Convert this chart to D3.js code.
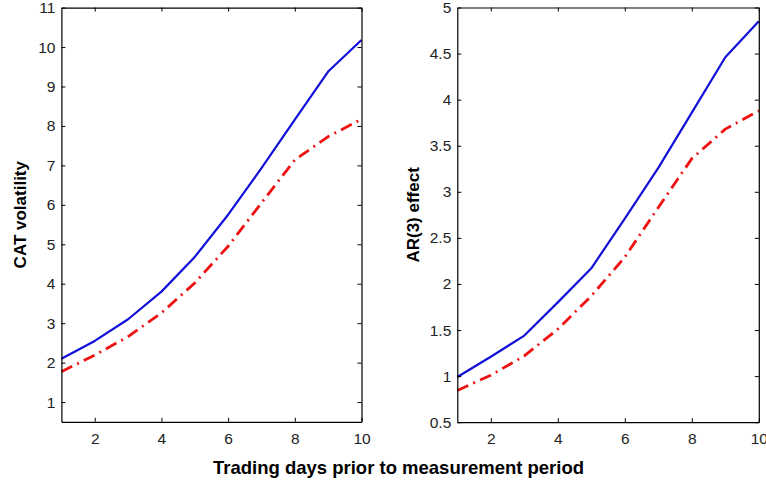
<!DOCTYPE html>
<html>
<head>
<meta charset="utf-8">
<script src="https://cdn.jsdelivr.net/npm/d3@7"></script>
<style>
  html, body { margin: 0; padding: 0; background: #fff; }
  svg { display: block; }
  .tick text { font-family: "Liberation Sans", Arial, sans-serif; font-size: 15.5px; fill: #222; }
  .lbl { font-family: "Liberation Sans", Arial, sans-serif; font-weight: bold; fill: #000; }
</style>
</head>
<body>
<script>
// Data
const days = [1, 2, 3, 4, 5, 6, 7, 8, 9, 10];
const catBlue = [2.10, 2.55, 3.10, 3.80, 4.68, 5.75, 6.93, 8.16, 9.38, 10.18];
const catRed  = [1.77, 2.19, 2.66, 3.26, 4.02, 4.95, 6.05, 7.14, 7.73, 8.17];
const arBlue  = [0.99, 1.21, 1.44, 1.80, 2.17, 2.71, 3.26, 3.86, 4.46, 4.85];
const arRed   = [0.845, 1.01, 1.22, 1.51, 1.87, 2.29, 2.83, 3.36, 3.68, 3.88];
const xTicks = [2, 4, 6, 8, 10];
const catTicks = [1, 2, 3, 4, 5, 6, 7, 8, 9, 10, 11];
const arTicks = [0.5, 1, 1.5, 2, 2.5, 3, 3.5, 4, 4.5, 5];

const W = 766, H = 486;
const svg = d3.select("body").append("svg").attr("width", W).attr("height", H);

function panel(opts) {
  const { left, right, top, bottom, yDomain, yTicks, blue, red, ylabel, ylabelX } = opts;
  const x = d3.scaleLinear().domain([1, 10]).range([left, right]);
  const y = d3.scaleLinear().domain(yDomain).range([bottom, top]);
  const g = svg.append("g");

  const line = d3.line().x((d, i) => x(days[i])).y(d => y(d)).curve(d3.curveLinear);
  g.append("path").datum(red).attr("d", line)
    .attr("fill", "none").attr("stroke", "#ee1111").attr("stroke-width", 2.8)
    .attr("stroke-linejoin", "round")
    .attr("stroke-dasharray", "12,5.5,2,5.5");
  g.append("path").datum(blue).attr("d", line)
    .attr("fill", "none").attr("stroke", "#1010d8").attr("stroke-width", 2.2)
    .attr("stroke-linejoin", "round");

  const ax = g.append("g").attr("transform", `translate(0,${bottom})`)
    .call(d3.axisBottom(x).tickValues(xTicks).tickSizeInner(-4).tickSizeOuter(0).tickPadding(11).tickFormat(d3.format("d")));
  const axTop = g.append("g").attr("transform", `translate(0,${top})`)
    .call(d3.axisTop(x).tickValues(xTicks).tickSizeInner(-4).tickSizeOuter(0).tickFormat(""));
  const ay = g.append("g").attr("transform", `translate(${left},0)`)
    .call(d3.axisLeft(y).tickValues(yTicks).tickSizeInner(-4).tickSizeOuter(0).tickPadding(6).tickFormat(d => String(d)));
  const ayR = g.append("g").attr("transform", `translate(${right},0)`)
    .call(d3.axisRight(y).tickValues(yTicks).tickSizeInner(-4).tickSizeOuter(0).tickFormat(""));
  [ax, axTop, ay, ayR].forEach(a => {
    a.select(".domain").attr("stroke", "#000").attr("stroke-width", 1.2);
    a.selectAll(".tick line").attr("stroke", "#000").attr("stroke-width", 1);
  });

  g.append("text").attr("class", "lbl").style("font-size", "17px")
    .attr("transform", `translate(${ylabelX},${(top + bottom) / 2}) rotate(-90)`)
    .attr("text-anchor", "middle").text(ylabel);
}

panel({ left: 61.4, right: 361.5, top: 7.6, bottom: 421.8, yDomain: [0.5, 11], yTicks: catTicks,
        blue: catBlue, red: catRed, ylabel: "CAT volatility", ylabelX: 26 });
panel({ left: 457.3, right: 758.8, top: 7.5, bottom: 422.2, yDomain: [0.5, 5], yTicks: arTicks,
        blue: arBlue, red: arRed, ylabel: "AR(3) effect", ylabelX: 419 });

svg.append("text").attr("class", "lbl").style("font-size", "18.5px")
  .attr("x", 398.5).attr("y", 474).attr("text-anchor", "middle")
  .text("Trading days prior to measurement period");
</script>
</body>
</html>
